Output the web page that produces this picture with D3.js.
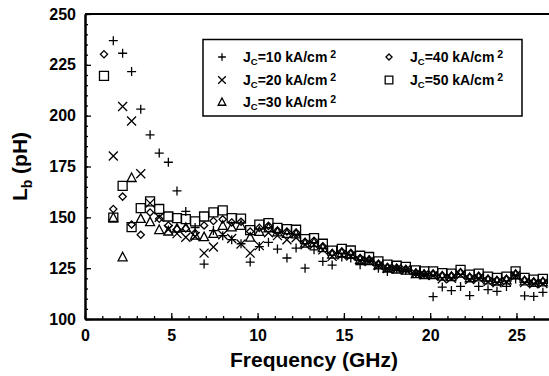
<!DOCTYPE html>
<html>
<head>
<meta charset="utf-8">
<script src="https://cdn.jsdelivr.net/npm/d3@7"></script>
<style>
  body { margin: 0; background: #fff; }
  text { font-family: 'Liberation Sans', Arial, sans-serif; font-weight: bold; }
</style>
</head>
<body>
<div id="display"></div>
<script>
// frequency points (GHz), shared by all series
const freq = [1.10, 1.64, 2.18, 2.70, 3.23, 3.77, 4.30, 4.83, 5.33, 5.84, 6.38,
  6.90, 7.44, 7.98, 8.50, 9.04, 9.57, 10.10, 10.63, 11.15, 11.70, 12.23, 12.75,
  13.27, 13.78, 14.32, 14.88, 15.40, 15.94, 16.46, 17.00, 17.52, 18.06, 18.59,
  19.17, 19.65, 20.17, 20.70, 21.23, 21.76, 22.29, 22.81, 23.35, 23.87, 24.42,
  24.95, 25.47, 26.00, 26.53];

// Lb (pH) for each Jc
const lb10 = [null, 236.9, 230.7, 221.7, 203.2, 190.6, 181.6, 177.1, 163, 152.9,
  145, 127, 143.5, 141, 139, 137, 128, 135.6, 137.7, 134.4, 130, 134.9, 125, 134,
  128.3, 126.5, 130.5, 130, 126.7, 129, 125, 123.4, 125, 124, 122.5, 122, 111,
  115.7, 114, 116, 111.5, 116, 114.4, 113.6, 116, 119.7, 111.4, 111.1, 113.1];
const lb20 = [null, 180.2, 204.5, 197.4, 171.4, 157, 150, 144, 142, 140.2, 140.6,
  132.4, 135.4, 141.4, 139.6, 136.9, 132.4, 136.1, 142.4, 141, 139, 140, 136.5,
  136.5, 134, 130.8, 131.5, 131, 128.8, 128.3, 126.3, 124.8, 124.6, 124.1, 122.3,
  121.8, 121.4, 119.8, 120, 121.6, 119.4, 120, 118.4, 117.8, 118.4, 121.4, 117.9,
  117.3, 117.5];
const lb30 = [null, 149.9, 130.5, 169.5, 149.4, 147.8, 143.9, 143.2, 144.6, 145,
  141.2, 140.4, 142, 146, 145.2, 146, 140.2, 143, 144.8, 142.8, 142, 141.8, 137.2,
  137.6, 135, 131.8, 132.5, 131.8, 129.2, 128.6, 126.5, 124.9, 124.5, 124, 122.2,
  121.8, 121.7, 121, 120.8, 122.5, 120.2, 120.6, 119.2, 118.6, 119.2, 121.8,
  118.7, 117.9, 118.2];
const lb40 = [230.2, 154.1, 160.2, 146.5, 141.4, 152.4, 149.3, 146, 144.2, 144.5,
  142.3, 146, 148.2, 149, 147.5, 147.8, 143, 144.8, 145.8, 143.5, 143, 142.5, 138,
  138.5, 135.8, 132.5, 133.2, 132.5, 130, 129.3, 127.2, 125.6, 125.2, 124.6,
  122.8, 122.3, 122.4, 121.5, 121.3, 123, 120.8, 121.2, 119.8, 119.2, 119.8,
  122.3, 119.2, 118.4, 118.6];
const lb50 = [219.6, 149.9, 165.5, 145.2, 154.5, 157.8, 154.1, 150.4, 149.6,
  149.1, 148, 150.4, 152.4, 153.4, 149.6, 149.4, 143.7, 146.4, 147.2, 144.8,
  144.2, 143.9, 139.3, 139.8, 137, 133.6, 134.5, 133.7, 131.1, 130.5, 128.3,
  126.7, 126.2, 125.6, 123.9, 123.4, 123.4, 122.6, 122.3, 124.2, 121.8, 122.3,
  120.8, 120.2, 120.8, 123.4, 120.2, 119.4, 119.7];

const jcLabels = ['10', '20', '30', '40', '50'];
const markers = ['plus', 'cross', 'triangle', 'diamond', 'square'];
const xTicks = [0, 5, 10, 15, 20, 25];
const yTicks = [100, 125, 150, 175, 200, 225, 250];

const series = [lb10, lb20, lb30, lb40, lb50].map((vals, i) => ({
  label: jcLabels[i],
  marker: markers[i],
  points: freq.map((f, j) => ({x: f, y: vals[j]})).filter((d) => d.y != null),
}));

const W = 549;
const H = 376;
const margin = {top: 14, right: -2, bottom: 57, left: 85};
const width = W - margin.left - margin.right;
const height = H - margin.top - margin.bottom;

const svg = d3.select('#display').append('svg')
    .attr('width', W)
    .attr('height', H);
const g = svg.append('g')
    .attr('transform', 'translate(' + margin.left + ',' + margin.top + ')');

const x = d3.scaleLinear().domain([0, 27]).range([0, width]);
const y = d3.scaleLinear().domain([100, 250]).range([height, 0]);

// minor ticks first, then majors with labels
g.append('g').attr('transform', 'translate(0,' + height + ')')
    .call(d3.axisBottom(x).tickValues(d3.range(0, 28, 1)).tickSize(-3)
        .tickSizeOuter(0).tickFormat(''));
g.append('g').call(d3.axisLeft(y).tickValues(d3.range(100, 251, 5))
    .tickSize(-3).tickSizeOuter(0).tickFormat(''));

const xAxis = g.append('g').attr('transform', 'translate(0,' + height + ')')
    .call(d3.axisBottom(x).tickValues(xTicks).tickSize(-6).tickSizeOuter(0)
        .tickPadding(11));
const yAxis = g.append('g')
    .call(d3.axisLeft(y).tickValues(yTicks).tickSize(-6).tickSizeOuter(0)
        .tickPadding(9));

g.selectAll('.domain').attr('stroke', '#000').attr('stroke-width', 2);
g.selectAll('.tick line').attr('stroke', '#000').attr('stroke-width', 1.3);
xAxis.selectAll('text').attr('font-size', 16).attr('fill', '#000');
yAxis.selectAll('text').attr('font-size', 16).attr('fill', '#000');

// top border (right border is outside the window)
g.append('line')
    .attr('x1', 0).attr('x2', width)
    .attr('y1', 0).attr('y2', 0)
    .attr('stroke', '#000').attr('stroke-width', 2);

function markerPath(type, s) {
  const h = s / 2;
  if (type == 'plus') {
    return 'M' + (-h) + ',0H' + h + 'M0,' + (-h) + 'V' + h;
  } else if (type == 'cross') {
    return 'M' + (-h) + ',' + (-h) + 'L' + h + ',' + h +
        'M' + (-h) + ',' + h + 'L' + h + ',' + (-h);
  } else if (type == 'triangle') {
    return 'M0,' + (-h * 1.05) + 'L' + h + ',' + (h * 0.85) +
        'L' + (-h) + ',' + (h * 0.85) + 'Z';
  } else if (type == 'diamond') {
    const d = h * 0.85;
    return 'M0,' + (-d) + 'L' + d + ',0L0,' + d + 'L' + (-d) + ',0Z';
  }
  return 'M' + (-h) + ',' + (-h) + 'H' + h + 'V' + h + 'H' + (-h) + 'Z';
}

const sizes = {plus: 9, cross: 9, triangle: 9, diamond: 8.5, square: 9};

for (const s of series) {
  g.append('g')
      .selectAll('path')
      .data(s.points)
      .enter()
      .append('path')
      .attr('transform', (d) => 'translate(' + x(d.x) + ',' + y(d.y) + ')')
      .attr('d', markerPath(s.marker, sizes[s.marker]))
      .attr('fill', 'none')
      .attr('stroke', '#000')
      .attr('stroke-width', 1.3);
}

// axis titles
svg.append('text')
    .attr('x', 314).attr('y', 367)
    .attr('text-anchor', 'middle')
    .attr('font-size', 21)
    .text('Frequency (GHz)');

const yTitle = svg.append('text')
    .attr('transform', 'translate(27,' + (margin.top + height / 2) + ') rotate(-90)')
    .attr('text-anchor', 'middle')
    .attr('font-size', 21);
yTitle.append('tspan').text('L');
yTitle.append('tspan').attr('font-size', 14).attr('dy', 5).text('b');
yTitle.append('tspan').attr('dy', -5).text(' (pH)');

// legend
const legend = svg.append('g');
legend.append('rect')
    .attr('x', 203).attr('y', 39.5)
    .attr('width', 319).attr('height', 76.5)
    .attr('fill', '#fff')
    .attr('stroke', '#000')
    .attr('stroke-width', 1.5);

const legendPos = [[222, 57], [222, 80], [222, 102], [389, 57], [389, 80]];
series.forEach((s, i) => {
  const [lx, ly] = legendPos[i];
  legend.append('path')
      .attr('transform', 'translate(' + lx + ',' + ly + ')')
      .attr('d', markerPath(s.marker, sizes[s.marker] * 0.85))
      .attr('fill', 'none')
      .attr('stroke', '#000')
      .attr('stroke-width', 1.3);
  const t = legend.append('text')
      .attr('x', lx + 21).attr('y', ly + 5)
      .attr('font-size', 14);
  t.append('tspan').text('J');
  t.append('tspan').attr('font-size', 9.5).attr('dy', 3).text('C');
  t.append('tspan').attr('dy', -3).text('=' + s.label + ' kA/cm');
  t.append('tspan').attr('font-size', 10.5).attr('dy', -4).attr('dx', 3).text('2');
});
</script>
</body>
</html>
